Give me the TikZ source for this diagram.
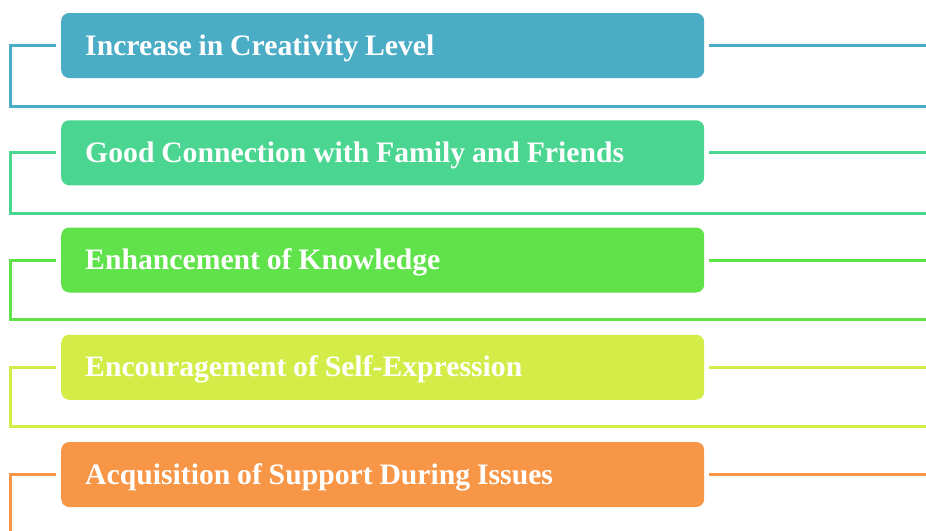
\documentclass[tikz,border=0pt]{standalone}
\usepackage{fontspec}
\setmainfont{Liberation Serif}
\definecolor{cA}{RGB}{75,172,198}
\definecolor{cB}{RGB}{74,214,144}
\definecolor{cC}{RGB}{96,226,74}
\definecolor{cD}{RGB}{212,236,72}
\definecolor{cE}{RGB}{247,150,70}
\newcommand\myitemfont{\fontsize{29.7}{32}\selectfont\bfseries}
\newcommand\myspacing{\spaceskip=6.8pt\relax\xspaceskip=6.8pt\relax}
\tikzset{
  itembox/.style={fill=#1, draw=none, rounded corners=8pt, anchor=west,
    minimum width=643pt, minimum height=65pt, text width=595pt, inner xsep=24pt,
    text height=22pt, text depth=3pt,
    align=left, text=white, font=\myitemfont},
  link/.style={draw=#1, line width=3pt},
}
\begin{document}
\begin{tikzpicture}[x=1pt,y=-1pt]
\useasboundingbox (0,0) rectangle (926,530);
\foreach \i/\c/\t/\b in {
  0/cA/{Increase in Creativity Level}/106.5,
  1/cB/{Good Connection with Family and Friends}/213.5,
  2/cC/{Enhancement of Knowledge}/319.5,
  3/cD/{Encouragement of Self-Expression}/426.5,
  4/cE/{Acquisition of Support During Issues}/540}{
  \pgfmathsetmacro{\cy}{45.5+107.25*\i}
  \node[itembox=\c] (b\i) at (61,\cy) {\myspacing\t};
  \coordinate (ls\i) at ([xshift=-5pt]b\i.west);
  \coordinate (lc\i) at (10.5,\cy);
  \coordinate (lb\i) at (10.5,\b);
  \coordinate (le\i) at (927,\b);
  \coordinate (rs\i) at ([xshift=5pt]b\i.east);
  \coordinate (re\i) at (927,\cy);
  \draw[link=\c] (ls\i) -- (lc\i) -- (lb\i) -- (le\i);
  \draw[link=\c] (rs\i) -- (re\i);
}
\end{tikzpicture}
\end{document}
